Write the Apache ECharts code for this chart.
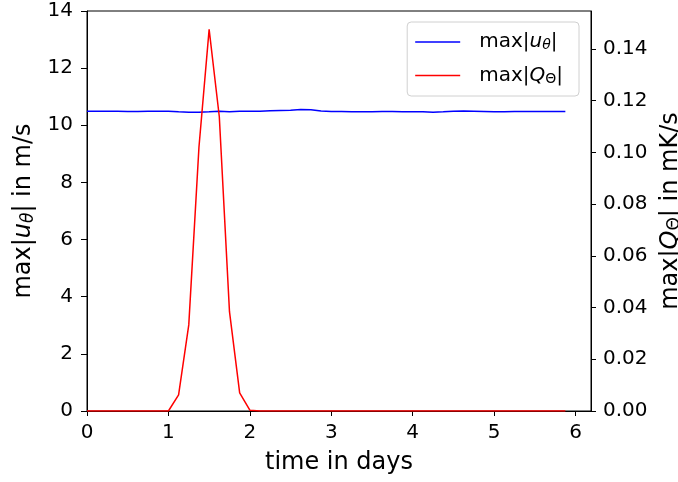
<!DOCTYPE html>
<html><head><meta charset="utf-8">
<script src="https://cdn.jsdelivr.net/npm/echarts@6/dist/echarts.min.js"></script>
<style>html,body{margin:0;padding:0;background:#fff}#c{width:678px;height:482px}</style>
</head><body><div id="c"></div>
<script>
const days = [0,0.125,0.25,0.375,0.5,0.625,0.75,0.875,1,1.125,1.25,1.375,1.5,1.625,1.75,1.875,2,2.125,2.25,2.375,2.5,2.625,2.75,2.875,3,3.125,3.25,3.375,3.5,3.625,3.75,3.875,4,4.125,4.25,4.375,4.5,4.625,4.75,4.875,5,5.125,5.25,5.375,5.5,5.625,5.75,5.875];
const maxU = [10.49,10.49,10.49,10.49,10.48,10.48,10.49,10.49,10.49,10.47,10.46,10.46,10.47,10.49,10.47,10.49,10.49,10.49,10.51,10.52,10.53,10.55,10.54,10.50,10.48,10.48,10.47,10.47,10.47,10.48,10.48,10.47,10.47,10.47,10.46,10.47,10.49,10.50,10.49,10.48,10.47,10.47,10.48,10.48,10.48,10.48,10.48,10.48];
const maxQ = [0,0,0,0,0,0,0,0,0,0.0062,0.0333,0.102,0.1476,0.1138,0.0384,0.007,0.0003,0,0,0,0,0,0,0,0,0,0,0,0,0,0,0,0,0,0,0,0,0,0,0,0,0,0,0,0,0,0,0];
const xTicks = [0,1,2,3,4,5,6];
const yLeftTicks = [0,2,4,6,8,10,12,14];
const yRightTicks = [0,0.02,0.04,0.06,0.08,0.10,0.12,0.14];

const FONT = 'DejaVu Sans';
const chart = echarts.init(document.getElementById('c'), null, {renderer:'canvas'});
function rich(sz){
  return {
    p:{fontFamily:FONT,fontSize:sz,color:'#000',padding:[0,0,0,14]},
    a:{fontFamily:FONT,fontSize:sz,color:'#000'},
    i:{fontFamily:FONT,fontSize:sz,fontStyle:'italic',color:'#000'},
    s:{fontFamily:FONT,fontSize:Math.round(sz*0.7),fontStyle:'italic',color:'#000',verticalAlign:'bottom',padding:[sz*0.35,0,0,0]},
    S:{fontFamily:FONT,fontSize:Math.round(sz*0.7),color:'#000',verticalAlign:'bottom',padding:[sz*0.35,0,0,0]}
  };
}
const axisLineStyle = {show:true,lineStyle:{color:'#000',width:1}};
const tickFont = {fontFamily:FONT,fontSize:20,color:'#000'};
chart.setOption({
  animation:false,
  backgroundColor:'#fff',
  grid:{left:87,right:87,top:11,bottom:71,outerBoundsMode:'none',containLabel:false,show:true,borderColor:'#000',borderWidth:1,backgroundColor:'transparent'},
  legend:{
    orient:'vertical', right:99, top:22,
    data:['u','Q'],
    icon:'rect', itemWidth:45, itemHeight:1.5, itemGap:13,
    padding:[10,16,10,8],
    borderColor:'#d0d0d0', borderWidth:1, borderRadius:4, backgroundColor:'rgba(255,255,255,0.8)',
    textStyle:{rich:rich(20)},
    formatter:function(n){ return n==='u' ? '{p|max|}{i|u}{s|θ}{a||}' : '{p|max|}{i|Q}{S|Θ}{a||}'; }
  },
  xAxis:{
    type:'value', min:0, max:6.19,
    name:'time in days', nameLocation:'middle', nameGap:40,
    nameTextStyle:{fontFamily:FONT,fontSize:24,color:'#000'},
    axisLine:axisLineStyle, splitLine:{show:false},
    axisTick:{show:true,length:5,lineStyle:{color:'#000'},customValues:xTicks},
    axisLabel:Object.assign({margin:12,customValues:xTicks},tickFont)
  },
  yAxis:[{
    type:'value', min:0, max:14, interval:2, position:'left',
    name:'{a|max|}{i|u}{s|θ}{a|| in m/s}', nameLocation:'middle', nameGap:46, nameRotate:90,
    nameTextStyle:{rich:rich(24)},
    axisLine:axisLineStyle, splitLine:{show:false},
    axisTick:{show:true,length:6,lineStyle:{color:'#000'}},
    axisLabel:Object.assign({margin:14,customValues:yLeftTicks},tickFont)
  },{
    type:'value', min:0, max:0.1547, position:'right',
    name:'{a|max|}{i|Q}{S|Θ}{a|| in mK/s}', nameLocation:'middle', nameGap:62, nameRotate:90,
    nameTextStyle:{rich:rich(24)},
    axisLine:axisLineStyle, splitLine:{show:false},
    axisTick:{show:true,length:5,lineStyle:{color:'#000'},customValues:yRightTicks},
    axisLabel:Object.assign({margin:12,customValues:yRightTicks,formatter:v=>v.toFixed(2)},tickFont)
  }],
  series:[{
    name:'u', type:'line', yAxisIndex:0, showSymbol:false, symbol:'none',
    lineStyle:{color:'#0000ff',width:1.5}, itemStyle:{color:'#0000ff'},
    data:days.map((d,i)=>[d,maxU[i]])
  },{
    name:'Q', type:'line', yAxisIndex:1, showSymbol:false, symbol:'none',
    lineStyle:{color:'#ff0000',width:1.5}, itemStyle:{color:'#ff0000'},
    data:days.map((d,i)=>[d,maxQ[i]])
  }]
});
</script></body></html>
